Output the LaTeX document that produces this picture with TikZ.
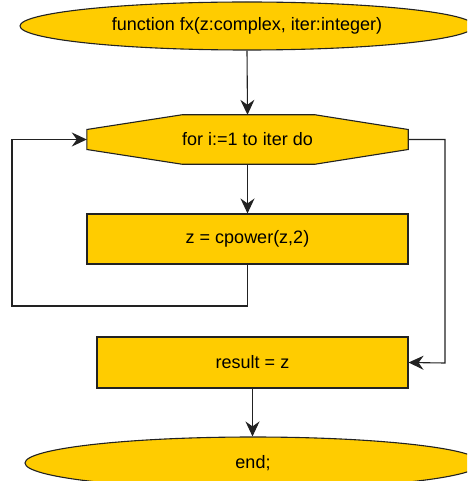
\documentclass[tikz,border=0pt]{standalone}
\usepackage{fontspec}
\setmainfont{Liberation Sans}
\usetikzlibrary{shapes.geometric,arrows.meta,calc}
\definecolor{boxfill}{HTML}{FFCC00}
\definecolor{edge}{HTML}{222222}
\tikzset{
  base/.style={draw=edge, line width=1.1pt, fill=boxfill, inner sep=0pt,
    font=\fontsize{18}{21}\selectfont, text=black},
  terminal/.style={base, ellipse},
  stepbox/.style={base, rectangle},
  loopbox/.style={rectangle, inner sep=0pt, font=\fontsize{18}{21}\selectfont},
  link/.style={draw=edge, line width=1.1pt,
    -{Stealth[length=15pt,width=14pt,inset=5pt]}},
}
\begin{document}
\begin{tikzpicture}[x=1pt,y=-1pt]
  \clip (0,0) rectangle (467,481);
  \fill[white] (0,0) rectangle (467,481);

  \node[terminal, minimum width=454pt, minimum height=48pt] (start) at (247,26)
    {function fx(z:complex, iter:integer)};

  % loop header: a hexagon drawn round an unframed node
  \node[loopbox, minimum width=321pt, minimum height=49pt] (loop) at (247.5,139.5) {};
  \filldraw[draw=edge, line width=1.1pt, fill=boxfill]
    (loop.west) ++(0,-10) -- ($(loop.north west)+(95,0)$)
    -- ($(loop.north east)+(-93,0)$) -- ($(loop.east)+(0,-10)$)
    -- ($(loop.east)+(0,10)$) -- ($(loop.south east)+(-93,0)$)
    -- ($(loop.south west)+(95,0)$) -- ($(loop.west)+(0,10)$) -- cycle;
  \node[loopbox] at (loop.center) {for i:=1 to iter do};

  \node[stepbox, minimum width=321pt, minimum height=50pt] (body) at (247.5,239)
    {z = cpower(z,2)};
  \node[stepbox, minimum width=311pt, minimum height=51pt] (result) at (252.5,362.5)
    {result = z};
  \node[terminal, minimum width=456pt, minimum height=52pt] (stop) at (253,463)
    {end;};

  \coordinate (back) at (12,306);
  \coordinate (exit) at (445,363);

  \draw[link] (start.south) -- (loop.north);
  \draw[link] (loop.south) -- (body.north);
  \draw[link] (body.south) |- (back) |- (loop.west);
  \draw[link] (loop.east) -| (exit) -- (result.east);
  \draw[link] (result.south) -- (result.south |- stop.north);
\end{tikzpicture}
\end{document}
